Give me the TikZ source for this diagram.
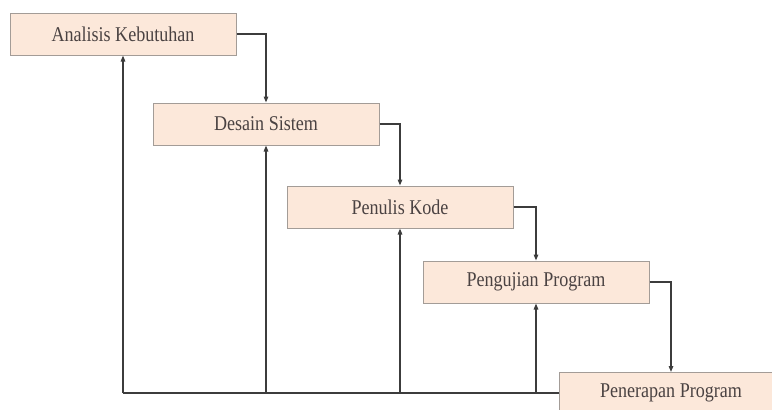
\documentclass[tikz,border=0pt]{standalone}
\usepackage{fontspec}
\setmainfont{Liberation Serif}
\usetikzlibrary{arrows.meta}
\definecolor{boxfill}{HTML}{FCE8DA}
\definecolor{boxline}{HTML}{A39C97}
\definecolor{txt}{HTML}{4A4242}
\definecolor{wire}{HTML}{3C3C3C}
\newcommand{\narrowtxt}[1]{\scalebox{0.86}[1]{#1}}
\begin{document}
\begin{tikzpicture}[x=1pt,y=-1pt,
  stage/.style={draw=boxline,line width=1pt,fill=boxfill,minimum width=226pt,minimum height=42pt,inner sep=0pt,text=txt,font=\fontsize{21}{23}\selectfont},
  wire/.style={draw=wire,line width=1.3pt},
  arr/.style={wire,-{Triangle[length=6pt,width=4.5pt]}}]
\useasboundingbox (0,0) rectangle (772,410);
\begin{scope}
\clip (0,0) rectangle (772,410);
\node[stage] (s1) at (123,34) {\narrowtxt{Analisis Kebutuhan}};
\node[stage] (s2) at (266,124) {\narrowtxt{Desain Sistem}};
\node[stage] (s3) at (400,207) {\narrowtxt{Penulis Kode}};
\node[stage] (s4) at (536,282) {\narrowtxt{Pengujian Program}};
\node[stage,anchor=north west] (s5) at (559,372) {\hspace*{0pt}};
\node[text=txt,font=\fontsize{21}{23}\selectfont] (t5) at (671,393) {\narrowtxt{Penerapan Program}};
\end{scope}
\draw[arr] (s1.east) -| (s2.north);
\draw[arr] (s2.east) -| (s3.north);
\draw[arr] (s3.east) -| (s4.north);
\draw[arr] (s4.east) -| (s5.north -| t5);
\coordinate (b1) at (s1.south |- 0,393);
\draw[wire] (s5.west |- 0,393) -- (b1);
\draw[arr] (b1) -- (s1.south);
\draw[arr] (s2.south |- 0,393) -- (s2.south);
\draw[arr] (s3.south |- 0,393) -- (s3.south);
\draw[arr] (s4.south |- 0,393) -- (s4.south);
\end{tikzpicture}
\end{document}
